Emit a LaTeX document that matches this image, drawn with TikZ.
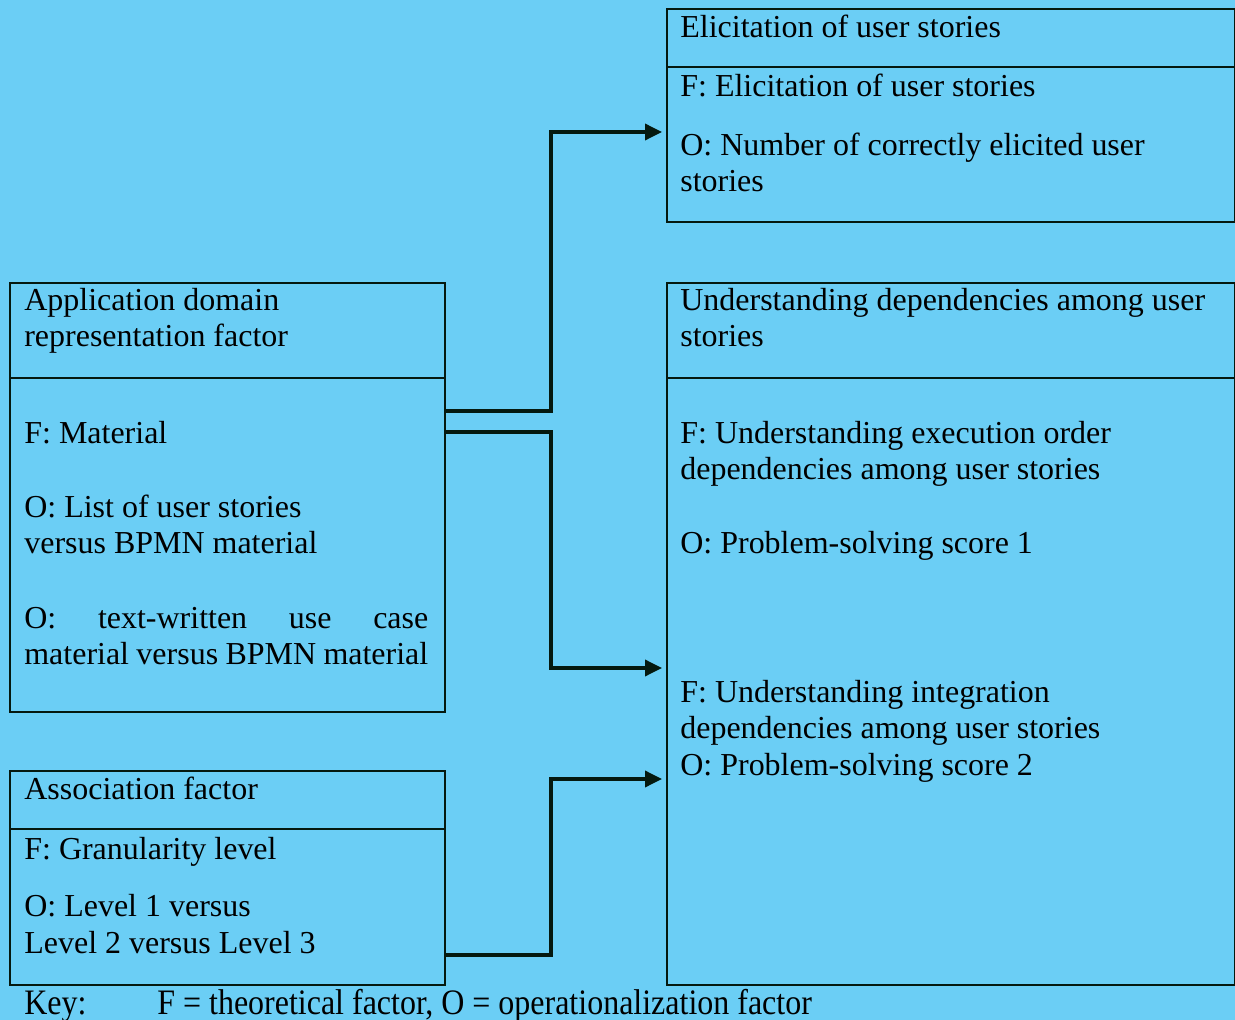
\documentclass[tikz,border=0pt]{standalone}
\usepackage{fontspec}
\setmainfont{Liberation Serif}
\usetikzlibrary{arrows.meta}
\definecolor{skyback}{RGB}{107,206,245}
\definecolor{inkline}{RGB}{5,25,15}
\tikzset{
  box/.style={draw=inkline,line width=1.2pt,anchor=north west,inner sep=0pt},
  rule/.style={draw=inkline,line width=1pt},
  flow/.style={draw=inkline,line width=2pt,-{Triangle[length=0.34cm,width=0.32cm]},shorten >=0.08cm},
  txt/.style={anchor=base west,inner sep=0pt,align=left,font=\fontsize{18.2}{20.6}\selectfont,text=black}
}
\begin{document}
\begin{tikzpicture}[x=0.02cm,y=-0.02cm]
   \fill[skyback] (0,0) rectangle (1235,1020);
   \useasboundingbox (0,0) rectangle (1235,1020);

   % boxes
   \node[box,minimum width=8.7cm,minimum height=8.58cm] (appl) at (9,282) {};
   \node[box,minimum width=8.7cm,minimum height=4.28cm] (assoc) at (9,770) {};
   \node[box,minimum width=11.36cm,minimum height=4.26cm] (elic) at (666,8) {};
   \node[box,minimum width=11.36cm,minimum height=14.04cm] (depend) at (666,282) {};

   \draw[rule] (appl.west |- 0,378) -- (appl.east |- 0,378);
   \draw[rule] (assoc.west |- 0,829) -- (assoc.east |- 0,829);
   \draw[rule] (elic.west |- 0,67) -- (elic.east |- 0,67);
   \draw[rule] (depend.west |- 0,378) -- (depend.east |- 0,378);

   % left texts (multi-line nodes sit on their last baseline)
   \node[txt] (applhead) at (24,347) {Application domain\\representation factor};
   \node[txt] (applf) at (24,444) {F: Material};
   \node[txt] (applo1) at (24,554) {O: List of user stories\\versus BPMN material};
   \node[txt,text width=8.08cm,align=justify] (applo2) at (24,628)
     {O:\hfill text-written\hfill use\hfill case\\material versus BPMN material};

   \node[txt] (assochead) at (24,799) {Association factor};
   \node[txt] (assocf) at (24,859) {F: Granularity level};
   \node[txt] (assoco) at (24,953) {O: Level 1 versus\\Level 2 versus Level 3};

   % right texts
   \node[txt] (elichead) at (680,38) {Elicitation of user stories};
   \node[txt] (elicf) at (680,97) {F: Elicitation of user stories};
   \node[txt] (elico) at (680,192) {O: Number of correctly elicited user\\stories};

   \node[txt] (dephead) at (680,347) {Understanding dependencies among user\\stories};
   \node[txt] (depf1) at (680,480) {F: Understanding execution order\\dependencies among user stories};
   \node[txt] (depo1) at (680,554) {O: Problem-solving score 1};
   \node[txt] (depf2) at (680,775) {F: Understanding integration\\dependencies among user stories\\O: Problem-solving score 2};

   % key
   \node[txt,yscale=1.12] (keylab) at (24,1014) {Key:};
   \node[txt,yscale=1.12] (keytxt) at (157,1014) {F = theoretical factor, O = operationalization factor};

   % connectors
   \draw[flow] (appl.east |- 0,411) -| (551,250) |- (elic.west |- 0,132);
   \draw[flow] (appl.east |- 0,432) -| (551,550) |- (depend.west |- 0,668);
   \draw[flow] (assoc.east |- 0,955) -| (551,860) |- (depend.west |- 0,779);
\end{tikzpicture}
\end{document}
